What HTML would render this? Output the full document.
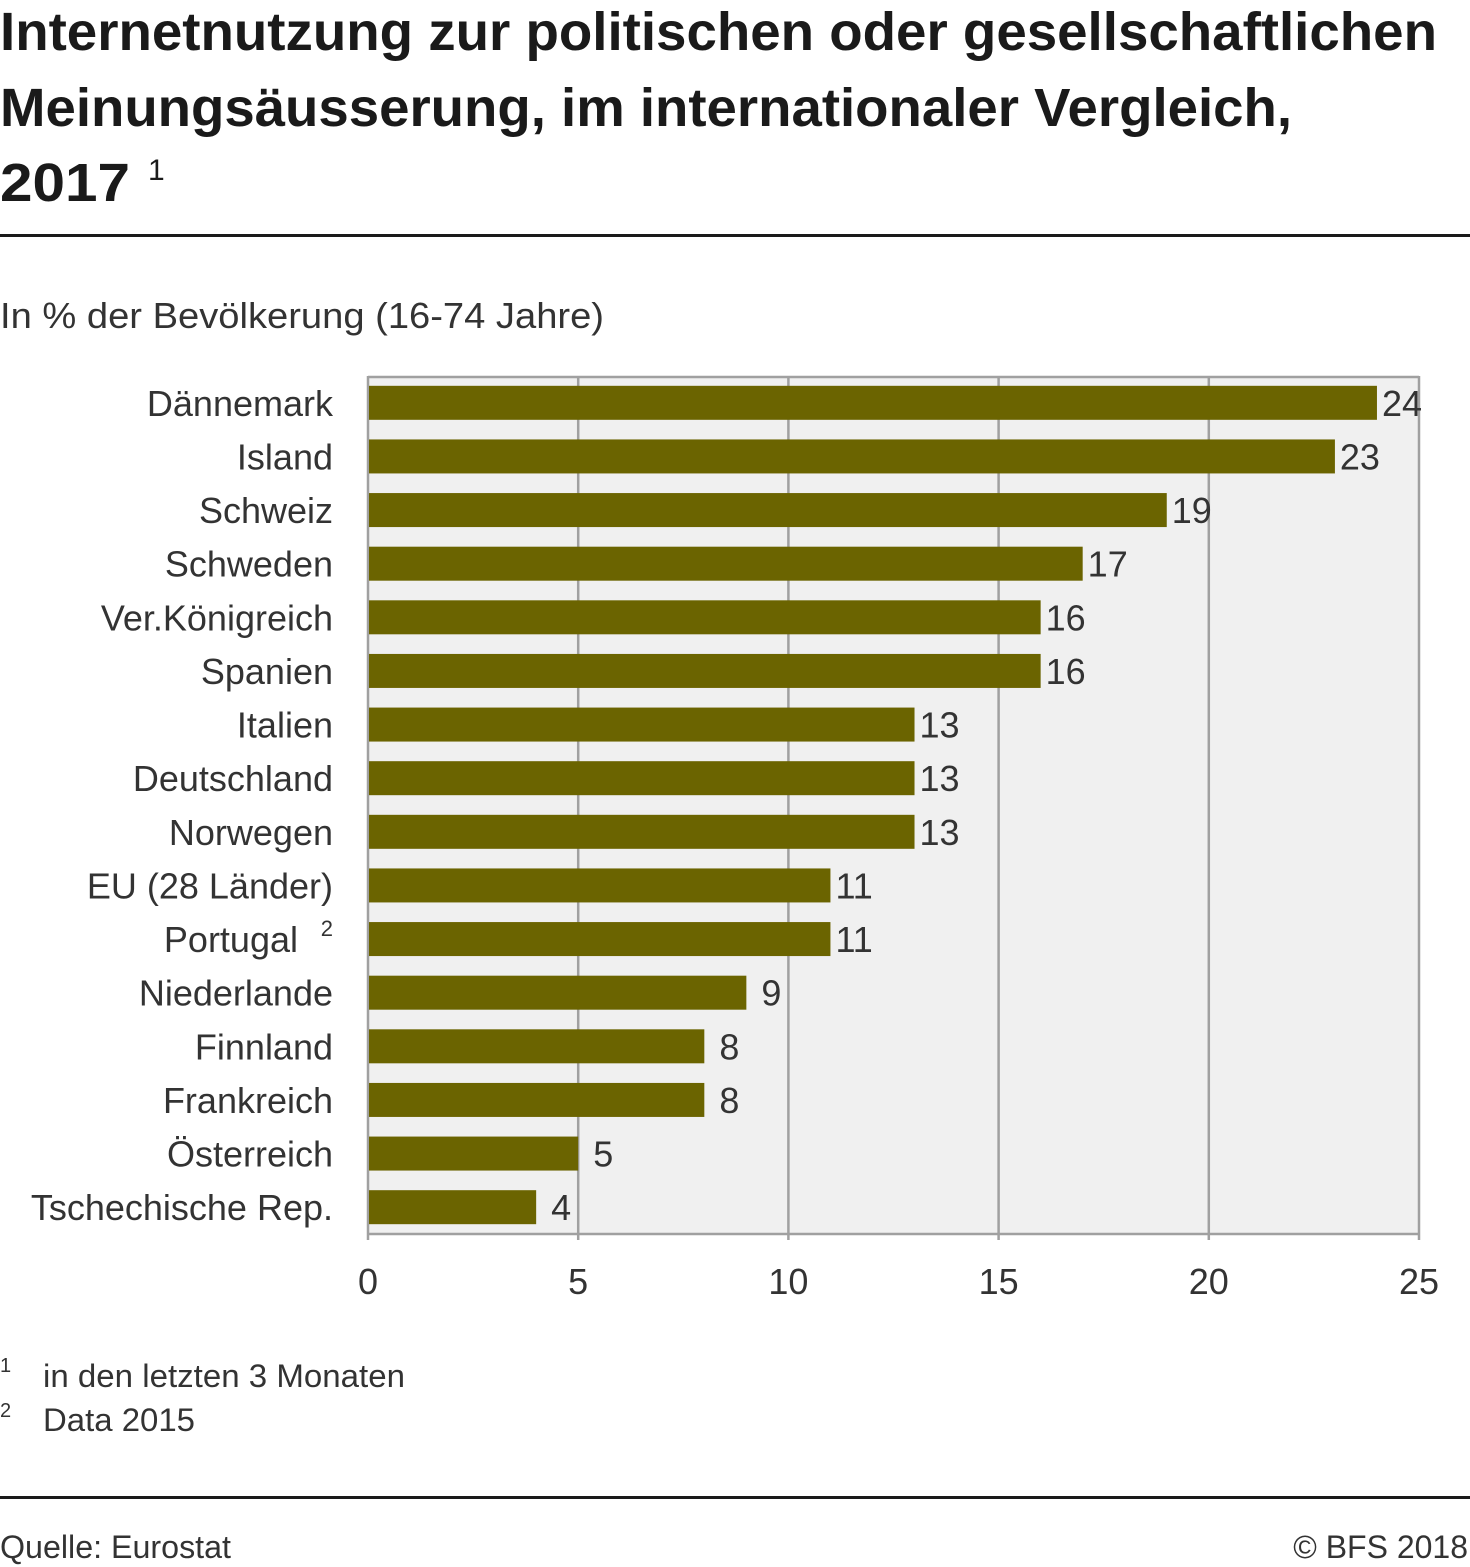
<!DOCTYPE html>
<html><head><meta charset="utf-8"><style>
html,body{margin:0;padding:0;background:#fff;}
svg{display:block;font-family:"Liberation Sans",sans-serif;}
</style></head><body>
<svg id="chart" width="1470" height="1567" viewBox="0 0 1470 1567" xmlns="http://www.w3.org/2000/svg">
<g font-weight="bold" font-size="54" fill="#1a1a1a">
<text x="0" y="50" textLength="1437" lengthAdjust="spacingAndGlyphs">Internetnutzung zur politischen oder gesellschaftlichen</text>
<text x="0" y="126" textLength="1292" lengthAdjust="spacingAndGlyphs">Meinungsäusserung, im internationaler Vergleich,</text>
<text x="0" y="201" textLength="130" lengthAdjust="spacingAndGlyphs">2017</text>
<text x="148" y="180" font-size="30" font-weight="normal">1</text>
</g>
<rect x="0" y="234" width="1470" height="3" fill="#1a1a1a"/>
<text x="0" y="328" font-size="36" fill="#333" textLength="604" lengthAdjust="spacingAndGlyphs">In % der Bevölkerung (16-74 Jahre)</text>
<rect x="368" y="376" width="1051" height="858" fill="#f0f0f0"/>
<g id="grid"></g>
<g id="bars"></g>
<g id="labels"></g>
<g id="ticks"></g>
<g fill="#333">
<text x="0" y="1372" font-size="20">1</text>
<text x="43" y="1387" font-size="32" textLength="362" lengthAdjust="spacingAndGlyphs">in den letzten 3 Monaten</text>
<text x="0" y="1417" font-size="20">2</text>
<text x="43" y="1431" font-size="32" textLength="152" lengthAdjust="spacingAndGlyphs">Data 2015</text>
</g>
<rect x="0" y="1496" width="1470" height="3" fill="#1a1a1a"/>
<text x="0" y="1558" font-size="32" fill="#333" textLength="231" lengthAdjust="spacingAndGlyphs">Quelle: Eurostat</text>
<text x="1468" y="1558" font-size="32" fill="#333" text-anchor="end">© BFS 2018</text>
</svg>
<script>
const categories=["Dännemark","Island","Schweiz","Schweden","Ver.Königreich","Spanien","Italien","Deutschland","Norwegen","EU (28 Länder)","Portugal","Niederlande","Finnland","Frankreich","Österreich","Tschechische Rep."];
const values=[24,23,19,17,16,16,13,13,13,11,11,9,8,8,5,4];
const tickValues=[0,5,10,15,20,25];
const tickLabels=["0","5","10","15","20","25"];
const NS="http://www.w3.org/2000/svg";
const plotLeft=368,plotRight=1419,plotTop=376,plotBottom=1234,xMax=25;
const xs=v=>plotLeft+(v/xMax)*(plotRight-plotLeft);
const band=(plotBottom-plotTop)/categories.length;
const yc=i=>plotTop+band*(i+0.5);
function mk(tag,attrs,parent){const e=document.createElementNS(NS,tag);for(const k in attrs)e.setAttribute(k,attrs[k]);parent.appendChild(e);return e;}
const gGrid=document.getElementById('grid'),gBars=document.getElementById('bars'),gLabels=document.getElementById('labels'),gTicks=document.getElementById('ticks');
tickValues.forEach((t,i)=>{
  const l=mk('line',{x1:xs(t),x2:xs(t),y1:plotTop,y2:plotBottom+6,stroke:'#a0a0a0','stroke-width':2.5},gGrid);
  
  
  const tx=mk('text',{x:xs(t),y:1294,'font-size':36,fill:'#333','text-anchor':'middle'},gTicks);
  tx.textContent=tickLabels[i];
  
  
});
const tl=mk('line',{x1:plotLeft,x2:plotRight,y1:plotTop+1,y2:plotTop+1,stroke:'#a0a0a0','stroke-width':2.5},gGrid);


const bl=mk('line',{x1:plotLeft,x2:plotRight,y1:plotBottom,y2:plotBottom,stroke:'#a0a0a0','stroke-width':2.5},gGrid);


categories.forEach((c,i)=>{
  const y=yc(i);
  const r=mk('rect',{x:plotLeft+1,y:y-17,width:xs(values[i])-plotLeft-1,height:34,fill:'#6b6400'},gBars);
  
  
  const off=values[i]<10?15:5;
  const v=mk('text',{x:xs(values[i])+off,y:y+13,'font-size':36,fill:'#333'},gLabels);
  v.textContent=values[i];
  
  
  const isPort=c==="Portugal";
  const t=mk('text',{x:isPort?298:333,y:y+13,'font-size':36,fill:'#333','text-anchor':'end'},gLabels);
  t.textContent=c;
  
  
  if(isPort){
    const s=mk('text',{x:333,y:y-3,'font-size':22,fill:'#333','text-anchor':'end'},gLabels);
    s.textContent='2';
    
    
  }
});
</script>
</body></html>
